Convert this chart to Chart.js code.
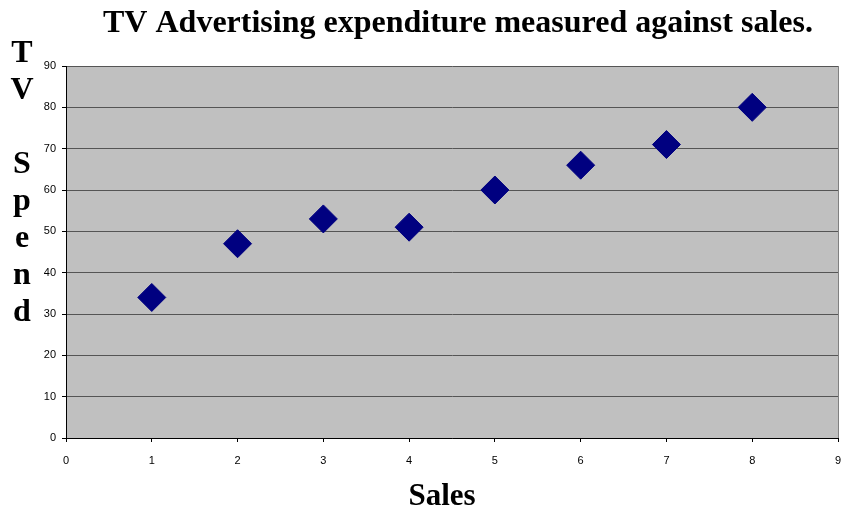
<!DOCTYPE html>
<html>
<head>
<meta charset="utf-8">
<script src="https://cdn.jsdelivr.net/npm/chart.js@4/dist/chart.umd.min.js"></script>
<style>
  html, body { margin: 0; padding: 0; background: #fff; overflow: hidden; }
  #wrap { width: 844px; height: 513px; }
  canvas { display: block; }
</style>
</head>
<body>
<div id="wrap"><canvas id="scatter"></canvas></div>
<script>
const sales = [1, 2, 3, 4, 5, 6, 7, 8];
const tvSpend = [34, 47, 53, 51, 60, 66, 71, 80];
const chartTitle = 'TV Advertising expenditure measured against sales.';
const xTitle = 'Sales';
const yTitleLines = ['T', 'V', '', 'S', 'p', 'e', 'n', 'd'];

const serif = '"Liberation Serif", "Times New Roman", serif';
const sans = '"Liberation Sans", Arial, sans-serif';

// grey plot area plus the headings around it
const decorations = {
  id: 'decorations',
  beforeDraw: (chart) => {
    const { ctx, chartArea: a } = chart;
    ctx.save();
    ctx.fillStyle = '#c0c0c0';
    ctx.fillRect(a.left, a.top, a.right - a.left, a.bottom - a.top);
    ctx.restore();
  },
  afterDraw: (chart) => {
    const { ctx } = chart;
    ctx.save();
    ctx.fillStyle = '#000';
    ctx.textAlign = 'center';
    ctx.textBaseline = 'alphabetic';
    ctx.font = 'bold 32px ' + serif;
    ctx.fillText(chartTitle, 458, 32);
    ctx.font = 'bold 31px ' + serif;
    ctx.fillText(xTitle, 442, 505);
    ctx.font = 'bold 32px ' + serif;
    yTitleLines.forEach((ch, i) => {
      if (ch) ctx.fillText(ch, 22, 62 + i * 37);
    });
    ctx.restore();
  },
};

new Chart(document.getElementById('scatter'), {
  type: 'scatter',
  data: {
    datasets: [
      {
        data: sales.map((s, i) => ({ x: s, y: tvSpend[i] })),
        pointStyle: 'rectRot',
        pointRadius: 14,
        pointHoverRadius: 14,
        borderWidth: 1,
        backgroundColor: '#000080',
        borderColor: '#000080',
      },
    ],
  },
  options: {
    responsive: true,
    maintainAspectRatio: false,
    animation: false,
    // big markers would otherwise push the plot edges inwards
    layout: { autoPadding: false, padding: { top: 66, right: 6, left: 0, bottom: 0 } },
    plugins: {
      legend: { display: false },
      tooltip: { enabled: false },
    },
    scales: {
      x: {
        type: 'linear',
        min: 0,
        max: 9,
        afterFit: (scale) => {
          scale.height = 75;
          scale.paddingLeft = 0;
          scale.paddingRight = 0;
        },
        ticks: {
          stepSize: 1,
          color: '#000',
          padding: 12,
          font: { family: sans, size: 11 },
        },
        grid: {
          color: (c) => (c.index === 9 ? '#808080' : 'transparent'),
          tickColor: '#000',
          tickLength: 4,
          lineWidth: 1,
        },
        border: { color: '#000', width: 1 },
      },
      y: {
        min: 0,
        max: 90,
        afterFit: (scale) => { scale.width = 66; },
        ticks: {
          stepSize: 10,
          color: '#000',
          padding: 6,
          font: { family: sans, size: 11 },
        },
        grid: {
          color: '#555',
          tickColor: '#000',
          tickLength: 4,
          lineWidth: 1,
        },
        border: { color: '#000', width: 1 },
      },
    },
  },
  plugins: [decorations],
});
</script>
</body>
</html>
